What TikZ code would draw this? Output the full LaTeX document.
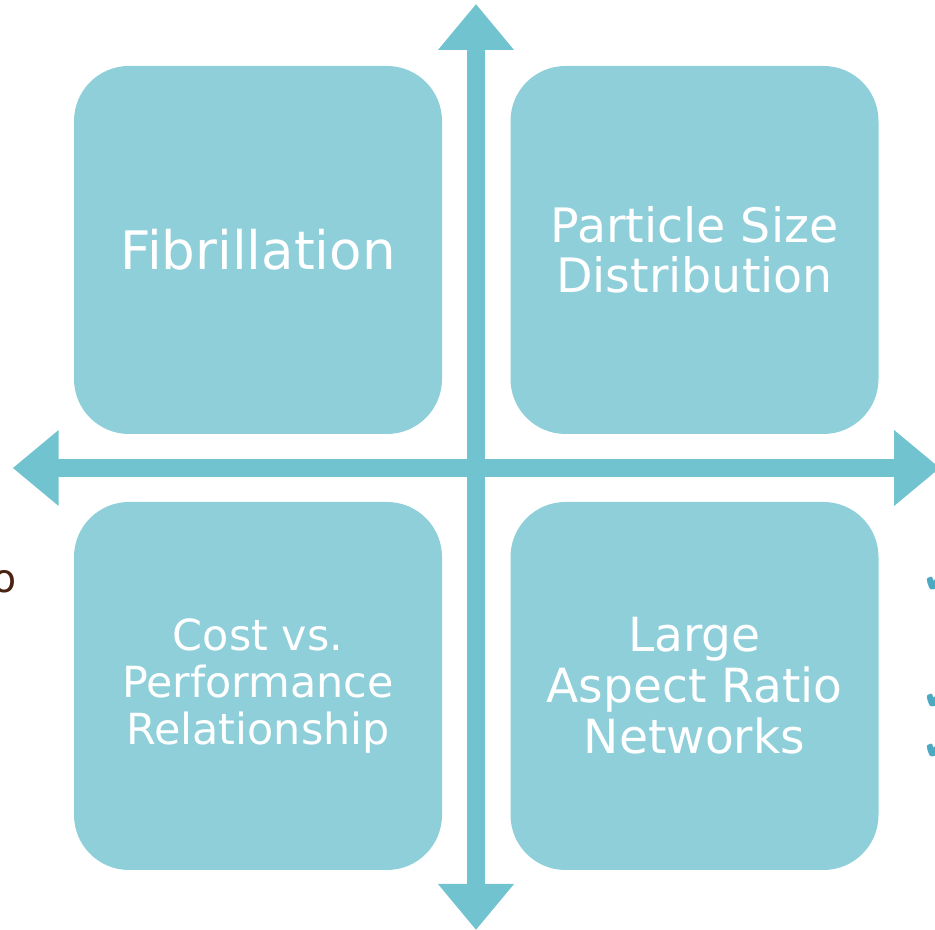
\documentclass[tikz,border=0pt]{standalone}
\usepackage{fontspec}
\setmainfont{DejaVu Sans}
\usetikzlibrary{arrows.meta}

\definecolor{boxteal}{HTML}{8ECFD9}
\definecolor{axisteal}{HTML}{71C3CF}
\definecolor{checkblue}{HTML}{4BA9C1}
\definecolor{textbrown}{HTML}{4A2412}

\tikzset{
  quad/.style={fill=boxteal, rounded corners=0.55cm, minimum width=3.68cm,
    minimum height=3.68cm, text=white, align=center, inner sep=0pt},
  axisarrow/.style={line width=1.8mm, draw=axisteal,
    {Triangle[length=4.6mm,width=7.3mm]}-{Triangle[length=4.6mm,width=7.3mm]}},
  tick/.style={text=checkblue, font=\fontsize{12}{12}\selectfont, inner sep=0pt, anchor=west}
}

\begin{document}
\begin{tikzpicture}
\useasboundingbox (0,0) rectangle (9.35,9.30);
\clip (0,0) rectangle (9.35,9.30);

\node[quad, font=\fontsize{15.1}{17}\selectfont] (fib) at (2.58,6.80) {Fibrillation};
\node[quad, font=\fontsize{13.5}{14.2}\selectfont] (psd) at (6.945,6.80) {Particle Size\\Distribution};
\node[quad, font=\fontsize{12.2}{13.4}\selectfont] (cost) at (2.58,2.44) {Cost vs.\\Performance\\Relationship};
\node[quad, font=\fontsize{13.4}{14.5}\selectfont] (net) at (6.945,2.44) {Large\\Aspect Ratio\\Networks};

\coordinate (up) at (4.76,9.26);
\coordinate (down) at (4.76,0.0);
\coordinate (west) at (0.127,4.62);
\coordinate (east) at (9.40,4.62);
\draw[axisarrow] (down) -- (up);
\draw[axisarrow] (west) -- (east);

% bits of the neighbouring text
\node[text=textbrown, font=\fontsize{11.2}{12}\selectfont, inner sep=0pt, anchor=base east] (lefto) at (0.17,3.37) {o};
\node[tick] (chk1) at (9.22,3.50) {✔};
\node[tick] (chk2) at (9.22,2.33) {✔};
\node[tick] (chk3) at (9.22,1.83) {✔};

\end{tikzpicture}
\end{document}
